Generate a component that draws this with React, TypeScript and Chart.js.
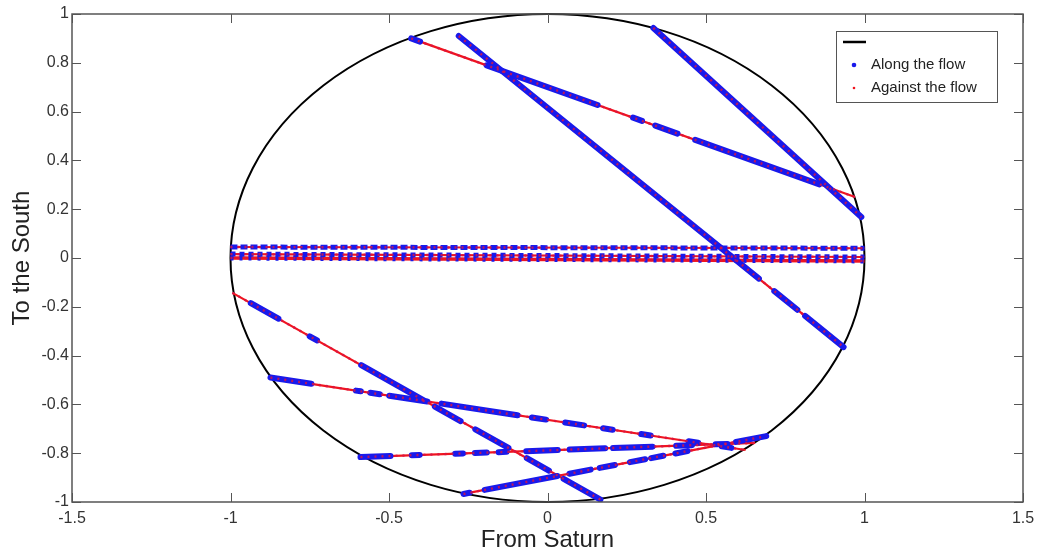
import React, { useEffect, useRef } from 'react';
import { Chart, registerables } from 'chart.js';

Chart.register(...registerables);

// ---- Data ----
const xTicks = [-1.5, -1, -0.5, 0, 0.5, 1, 1.5];
const yTicks = [-1, -0.8, -0.6, -0.4, -0.2, 0, 0.2, 0.4, 0.6, 0.8, 1];
const circleRadius = 1;

// chord start / end points (From Saturn, To the South)
const chordStart: number[][] = [
  [-0.43, 0.9],
  [0.334, 0.943],
  [-0.28, 0.91],
  [-1.0, 0.045],
  [-1.0, 0.016],
  [-1.0, 0.0],
  [-0.994, -0.143],
  [-0.874, -0.49],
  [-0.59, -0.816],
  [-0.265, -0.967],
];
const chordEnd: number[][] = [
  [0.97, 0.25],
  [0.99, 0.168],
  [0.934, -0.365],
  [1.0, 0.04],
  [1.0, 0.004],
  [1.0, -0.012],
  [0.167, -0.99],
  [0.625, -0.787],
  [0.655, -0.758],
  [0.69, -0.73],
];
// portions (fraction of chord length) covered by "Along the flow" samples
const alongRanges: number[][][] = [
  [[0, 0.02], [0.17, 0.42], [0.5, 0.52], [0.55, 0.6], [0.64, 0.92]],
  [[0, 1]],
  [[0, 0.78], [0.82, 0.88], [0.9, 1]],
  [[0, 1]],
  [[0, 1]],
  [[0, 1]],
  [[0.05, 0.125], [0.21, 0.23], [0.35, 0.52], [0.55, 0.62], [0.66, 0.75], [0.8, 0.86], [0.9, 1]],
  [[0, 0.086], [0.18, 0.19], [0.21, 0.23], [0.25, 0.33], [0.36, 0.52], [0.55, 0.58], [0.62, 0.66], [0.7, 0.72], [0.78, 0.8], [0.88, 0.9], [0.95, 0.97]],
  [[0, 0.076], [0.13, 0.15], [0.24, 0.26], [0.29, 0.32], [0.35, 0.37], [0.42, 0.5], [0.53, 0.62], [0.64, 0.74], [0.8, 0.84], [0.9, 0.93]],
  [[0, 0.02], [0.07, 0.31], [0.35, 0.42], [0.45, 0.5], [0.55, 0.6], [0.62, 0.66], [0.7, 0.74], [0.9, 1]],
];
const dashedChords = [3, 4, 5];

const legendLabels = ['', 'Along the flow', 'Against the flow'];
const xTitle = 'From Saturn';
const yTitle = 'To the South';

const BLUE = 'rgb(25,25,235)';
const RED = 'rgb(240,20,30)';
const FONT = "'Liberation Sans', Arial, Helvetica, sans-serif";

function pointOn(i: number, t: number) {
  const [x0, y0] = chordStart[i];
  const [x1, y1] = chordEnd[i];
  return { x: x0 + (x1 - x0) * t, y: y0 + (y1 - y0) * t };
}

function buildDatasets() {
  const sets: any[] = [];
  chordStart.forEach((_, i) => {
    const dashed = dashedChords.includes(i);
    // red "against the flow" base line (underneath)
    sets.push({
      label: 'against-' + i,
      data: [pointOn(i, 0), pointOn(i, 1)],
      showLine: true,
      borderColor: RED,
      borderWidth: i === 5 ? 3.5 : 2.2,
      pointRadius: 0,
      order: 2,
    });
    const pts: any[] = [];
    alongRanges[i].forEach(([a, b], k) => {
      if (k > 0) pts.push({ x: pointOn(i, a).x, y: null });
      pts.push(pointOn(i, a));
      pts.push(pointOn(i, b));
    });
    sets.push({
      label: 'along-' + i,
      data: pts,
      showLine: true,
      spanGaps: false,
      borderColor: BLUE,
      borderWidth: dashed ? 5 : 6,
      borderDash: dashed ? (i === 3 ? [7, 3] : i === 4 ? [5, 4] : [3, 6]) : [],
      borderCapStyle: dashed ? 'butt' : 'round',
      pointRadius: 0,
      order: 1,
    });
    // sparse red samples drawn over the blue ones
    sets.push({
      label: 'against-dots-' + i,
      data: [pointOn(i, 0), pointOn(i, 1)],
      showLine: true,
      borderColor: 'rgba(215,20,70,0.85)',
      borderWidth: 2.4,
      borderDash: [2, 5],
      pointRadius: 0,
      order: 0,
    });
  });
  return sets;
}

const framePlugin = {
  id: 'matlabFrame',
  beforeDatasetsDraw(chart: any) {
    const { ctx, scales } = chart;
    const x = scales.x, y = scales.y;
    const cx = x.getPixelForValue(0);
    const cy = y.getPixelForValue(0);
    const rx = x.getPixelForValue(circleRadius) - cx;
    const ry = cy - y.getPixelForValue(circleRadius);
    ctx.save();
    ctx.beginPath();
    ctx.ellipse(cx, cy, rx, ry, 0, 0, Math.PI * 2);
    ctx.lineWidth = 2;
    ctx.strokeStyle = '#000';
    ctx.stroke();
    ctx.restore();
  },
  afterDraw(chart: any) {
    const { ctx, chartArea, scales } = chart;
    const { left, right, top, bottom } = chartArea;
    const x = scales.x, y = scales.y;
    ctx.save();
    ctx.strokeStyle = '#555';
    ctx.lineWidth = 1.5;
    ctx.strokeRect(left, top, right - left, bottom - top);
    ctx.lineWidth = 1;
    const tl = 9;
    ctx.beginPath();
    xTicks.forEach((v) => {
      const px = Math.round(x.getPixelForValue(v)) + 0.5;
      ctx.moveTo(px, bottom); ctx.lineTo(px, bottom - tl);
      ctx.moveTo(px, top); ctx.lineTo(px, top + tl);
    });
    yTicks.forEach((v) => {
      const py = Math.round(y.getPixelForValue(v)) + 0.5;
      ctx.moveTo(left, py); ctx.lineTo(left + tl, py);
      ctx.moveTo(right, py); ctx.lineTo(right - tl, py);
    });
    ctx.stroke();

    // legend box
    const bw = 161, bh = 71;
    const bx = right - 26 - bw;
    const by = top + 17;
    ctx.fillStyle = '#fff';
    ctx.fillRect(bx, by, bw, bh);
    ctx.strokeStyle = '#555';
    ctx.lineWidth = 1;
    ctx.strokeRect(bx + 0.5, by + 0.5, bw, bh);
    // entry 1: black line
    ctx.strokeStyle = '#000';
    ctx.lineWidth = 2.5;
    ctx.beginPath();
    ctx.moveTo(bx + 7, by + 11);
    ctx.lineTo(bx + 30, by + 11);
    ctx.stroke();
    ctx.font = '15px ' + FONT;
    ctx.fillStyle = '#222';
    ctx.textBaseline = 'middle';
    ctx.textAlign = 'left';
    if (legendLabels[0]) ctx.fillText(legendLabels[0], bx + 36, by + 11);
    // entry 2: blue dot
    ctx.fillStyle = BLUE;
    ctx.beginPath();
    ctx.arc(bx + 18, by + 34, 2.3, 0, Math.PI * 2);
    ctx.fill();
    ctx.fillStyle = '#222';
    ctx.fillText(legendLabels[1], bx + 35, by + 34);
    // entry 3: red dot
    ctx.fillStyle = RED;
    ctx.beginPath();
    ctx.arc(bx + 18, by + 57, 1.3, 0, Math.PI * 2);
    ctx.fill();
    ctx.fillStyle = '#222';
    ctx.fillText(legendLabels[2], bx + 35, by + 57);
    ctx.restore();
  },
};

function fmt(v: number) {
  return String(Number(v.toFixed(1)));
}

export default function App() {
  const ref = useRef<HTMLCanvasElement | null>(null);
  useEffect(() => {
    document.body.style.margin = '0';
    const canvas = ref.current!;
    const chart = new Chart(canvas, {
      type: 'scatter',
      data: { datasets: buildDatasets() },
      plugins: [framePlugin],
      options: {
        animation: false,
        responsive: false,
        devicePixelRatio: 1,
        layout: { padding: { top: 14, right: 25, left: 0, bottom: 0 } },
        plugins: { legend: { display: false }, tooltip: { enabled: false } },
        scales: {
          x: {
            type: 'linear',
            min: -1.5,
            max: 1.5,
            afterFit: (s: any) => { s.height = 54; },
            afterBuildTicks: (s: any) => { s.ticks = xTicks.map((v) => ({ value: v })); },
            grid: { display: false, drawTicks: false },
            border: { display: false },
            ticks: { padding: 7, color: '#333', font: { size: 16, family: FONT }, callback: (v: any) => fmt(Number(v)), maxRotation: 0, autoSkip: false },
            title: { display: true, text: xTitle, color: '#222', font: { size: 24, family: FONT }, padding: { top: 0, bottom: 1 } },
          },
          y: {
            type: 'linear',
            min: -1,
            max: 1,
            afterFit: (s: any) => { s.width = 72; },
            afterBuildTicks: (s: any) => { s.ticks = yTicks.map((v) => ({ value: v })); },
            grid: { display: false, drawTicks: false },
            border: { display: false },
            ticks: { padding: 3, color: '#333', font: { size: 16, family: FONT }, callback: (v: any) => fmt(Number(v)), autoSkip: false },
            title: { display: true, text: yTitle, color: '#222', font: { size: 24, family: FONT }, padding: { top: 8, bottom: 0 } },
          },
        },
      } as any,
    });
    return () => chart.destroy();
  }, []);
  return (
    <div style={{ width: 1048, height: 556, background: '#fff' }}>
      <canvas ref={ref} width={1048} height={556} style={{ display: 'block' }} />
    </div>
  );
}
